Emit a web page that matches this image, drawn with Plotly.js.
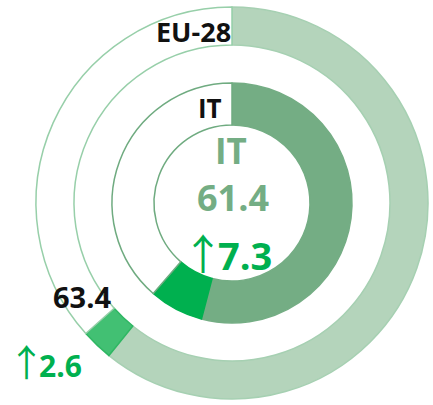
<!DOCTYPE html>
<html>
<head>
<meta charset="utf-8">
<script src="https://cdn.plot.ly/plotly-3.0.1.min.js"></script>
<style>html,body{margin:0;padding:0;background:#fff;}#chart{width:433px;height:405px;}</style>
</head>
<body>
<div id="chart"></div>
<script>
// Data
const ringNames = ["EU-28", "IT"];
const totals = [63.4, 61.4];      // share values
const increases = [2.6, 7.3];     // increase values
const fullScale = 100;

// Build slice values: [base, increase, remainder]
function slices(i) {
  return [+(totals[i] - increases[i]).toFixed(1), increases[i], +(fullScale - totals[i]).toFixed(1)];
}

const outer = {
  type: 'pie',
  values: slices(0),
  sort: false,
  direction: 'clockwise',
  rotation: 0,
  hole: 0.806,
  domain: {x: [0.0831, 0.9885], y: [0.0148, 0.9827]},
  marker: {
    colors: ['#b4d4bb', '#42c073', '#ffffff'],
    line: {color: ['#a6d0b2', '#2fb763', '#97cfa9'], width: 1.5}
  },
  textinfo: 'none',
  hoverinfo: 'skip',
  showlegend: false
};

const inner = {
  type: 'pie',
  values: slices(1),
  sort: false,
  direction: 'clockwise',
  rotation: 0,
  hole: 0.65,
  domain: {x: [0.2587, 0.8129], y: [0.2025, 0.7951]},
  marker: {
    colors: ['#74ad84', '#00b04f', '#ffffff'],
    line: {color: ['#74ad84', '#00b04f', '#6fab80'], width: 1.5}
  },
  textinfo: 'none',
  hoverinfo: 'skip',
  showlegend: false
};

const F = '"Open Sans", "DejaVu Sans", sans-serif';
const black = '#111111';
const green = '#00b04f';
const grey = '#74ad84';

function upText(v, arrowSize) {
  return '<span style="font-family:\'Noto Sans CJK JP\';font-size:' + arrowSize + 'px;font-weight:normal;letter-spacing:-6px">↑</span><b>' + v.toFixed(1) + '</b>';
}

const annotations = [
  {text: '<b>' + ringNames[0] + '</b>', x: 0.535, y: 0.921, xanchor: 'right', yanchor: 'middle', font: {family: F, size: 27, color: black}},
  {text: '<b>' + ringNames[1] + '</b>', x: 0.514, y: 0.733, xanchor: 'right', yanchor: 'middle', font: {family: F, size: 26, color: black}},
  {text: '<b>' + ringNames[1] + '</b>', x: 0.533, y: 0.628, xanchor: 'center', yanchor: 'middle', font: {family: F, size: 35, color: grey}},
  {text: '<b>' + totals[1].toFixed(1) + '</b>', x: 0.539, y: 0.512, xanchor: 'center', yanchor: 'middle', font: {family: F, size: 36, color: grey}},
  {text: upText(increases[1], 42), x: 0.418, y: 0.380, xanchor: 'left', yanchor: 'middle', font: {family: F, size: 38, color: green}},
  {text: '<b>' + totals[0].toFixed(1) + '</b>', x: 0.120, y: 0.267, xanchor: 'left', yanchor: 'middle', font: {family: F, size: 29, color: black}},
  {text: upText(increases[0], 37), x: 0.016, y: 0.109, xanchor: 'left', yanchor: 'middle', font: {family: F, size: 30, color: green}}
].map(a => Object.assign({xref: 'paper', yref: 'paper', showarrow: false, borderpad: 0}, a));

const layout = {
  width: 433, height: 405,
  margin: {l: 0, r: 0, t: 0, b: 0},
  paper_bgcolor: '#ffffff',
  plot_bgcolor: '#ffffff',
  annotations: annotations,
  showlegend: false
};

Plotly.newPlot('chart', [outer, inner], layout, {displayModeBar: false, staticPlot: true});
</script>
</body>
</html>
